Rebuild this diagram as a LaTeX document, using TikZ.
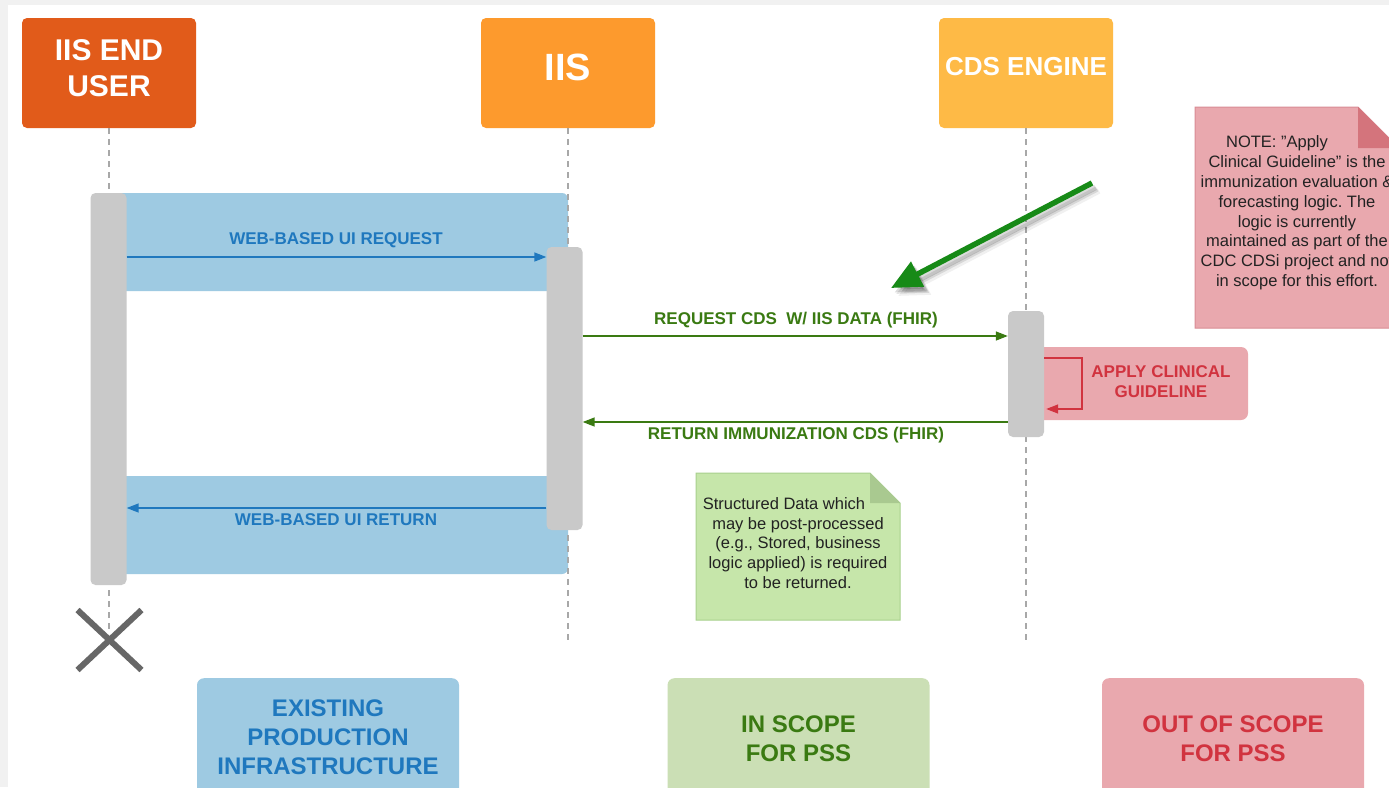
\documentclass[tikz,border=0pt]{standalone}
\usepackage{fontspec}
\setmainfont{Liberation Sans}
\usetikzlibrary{arrows.meta,calc}
\frenchspacing

\definecolor{userorange}{HTML}{E15B1A}
\definecolor{iisorange}{HTML}{FD9A2D}
\definecolor{cdsyellow}{HTML}{FEBA46}
\definecolor{bandblue}{HTML}{9ECAE2}
\definecolor{msgblue}{HTML}{1F78BE}
\definecolor{bargray}{HTML}{C9C9C9}
\definecolor{msggreen}{HTML}{3A7A12}
\definecolor{notepink}{HTML}{E9A8AE}
\definecolor{pinkedge}{HTML}{D98C94}
\definecolor{pinkfold}{HTML}{D4747C}
\definecolor{msgred}{HTML}{D1333F}
\definecolor{notegreen}{HTML}{C6E6AA}
\definecolor{greenedge}{HTML}{A8D08D}
\definecolor{greenfold}{HTML}{A9C990}
\definecolor{scopegreen}{HTML}{CBDFB5}
\definecolor{pointergreen}{HTML}{178A17}
\definecolor{crossgray}{HTML}{676767}
\definecolor{lifegray}{HTML}{A8A8A8}
\definecolor{framegray}{HTML}{F1F1F1}
\definecolor{notetextcol}{HTML}{222222}

\begin{document}
\begin{tikzpicture}[x=1pt,y=-1pt,
  actor/.style={rounded corners=5pt, minimum width=174pt, minimum height=110pt, inner sep=0pt},
  actortext/.style={text=white, align=center, inner sep=0pt},
  bar/.style={fill=bargray, rounded corners=5pt, minimum width=36pt, inner sep=0pt},
  band/.style={fill=bandblue, rounded corners=6pt, inner sep=0pt, minimum height=98pt, minimum width=453pt},
  lifeline/.style={draw=lifegray, line width=1.2pt, dash pattern=on 6pt off 5pt},
  msgfont/.style={font=\fontsize{17}{20}\selectfont\bfseries, inner sep=0pt, align=center},
  bluemsg/.style={draw=msgblue, line width=1.5pt, -{Triangle[length=12pt,width=9pt]}},
  greenmsg/.style={draw=msggreen, line width=1.5pt, -{Triangle[length=12pt,width=9pt]}},
  redmsg/.style={draw=msgred, line width=1.5pt, -{Triangle[length=12pt,width=9pt]}},
  legendbox/.style={rounded corners=7pt, minimum width=262pt, minimum height=130pt, inner sep=0pt, anchor=north},
  legendtext/.style={font=\fontsize{24}{29}\selectfont\bfseries, align=center, inner sep=0pt},
  notetext/.style={font=\fontsize{16.5}{19.8}\selectfont, text=notetextcol, align=center, inner sep=0pt},
  pointer/.style={line width=5.5pt, -{Triangle[length=30pt,width=27pt]}},
]
\clip (0,0) rectangle (1389,787);
\useasboundingbox (0,0) rectangle (1389,787);

% page frame
\fill[framegray] (0,0) rectangle (1389,787);
\fill[white] (8,5) rectangle (1389,787);

% legend
\node[legendbox, fill=bandblue] (legexist) at (328,678) {};
\node[legendtext, text=msgblue] (legexisttext) at (328,737) {EXISTING\\PRODUCTION\\INFRASTRUCTURE};
\node[legendbox, fill=scopegreen] (legin) at (798.5,678) {};
\node[legendtext, text=msggreen] (legintext) at (798.5,739) {IN SCOPE\\FOR PSS};
\node[legendbox, fill=notepink] (legout) at (1233,678) {};
\node[legendtext, text=msgred] (legouttext) at (1233,739) {OUT OF SCOPE\\FOR PSS};

% notes with folded corners
\path[fill=notepink, draw=pinkedge, line width=1pt]
  (1195,107) -- (1358,107) -- (1399,148) -- (1399,328) -- (1195,328) -- cycle;
\fill[pinkfold] (1358,107) -- (1358,148) -- (1399,148) -- cycle;
\node[notetext] (cdcnote) at (1297,213) {NOTE: "Apply\phantom{\hspace{40pt}}\\
 Clinical Guideline" is the\\immunization evaluation \&\\forecasting logic. The\\logic is currently\\maintained as part of the\\CDC CDSi project and not\\in scope for this effort.};

\path[fill=notegreen, draw=greenedge, line width=1pt]
  (696,473) -- (870,473) -- (900,503) -- (900,620) -- (696,620) -- cycle;
\fill[greenfold] (870,473) -- (870,503) -- (900,503) -- cycle;
\node[notetext] (fhirnote) at (798,543) {Structured Data which\phantom{\hspace{28pt}}\\may be post-processed\\(e.g., Stored, business\\logic applied) is required\\to be returned.};

% interaction bands
\node[band] (bandreq) at (341.5,242) {};
\node[band] (bandret) at (341.5,525) {};
\node[fill=notepink, rounded corners=7pt, minimum width=218pt, minimum height=73pt, inner sep=0pt] (applybox) at (1139,383.5) {};

% actors
\node[actor, fill=userorange] (user) at (109,73) {};
\node[actor, fill=iisorange] (iis) at (568,73) {};
\node[actor, fill=cdsyellow] (cds) at (1026,73) {};
\node[actortext, font=\fontsize{30}{36}\selectfont\bfseries] (usertext) at (109,68) {IIS END\\USER};
\node[actortext, font=\fontsize{38}{40}\selectfont\bfseries] (iistext) at (568,67) {IIS};
\node[actortext, font=\fontsize{26}{30}\selectfont\bfseries] (cdstext) at (1026,67) {CDS ENGINE};

% lifelines
\coordinate (userend) at (109,633);
\coordinate (iisend) at (568,640);
\coordinate (cdsend) at (1026,640);
\draw[lifeline] (user.south) -- (userend);
\draw[lifeline] (iis.south) -- (iisend);
\draw[lifeline] (cds.south) -- (cdsend);

% activation bars
\node[bar, minimum height=392pt] (ubar) at (108.5,389) {};
\node[bar, minimum height=283pt] (ibar) at (564.5,388.5) {};
\node[bar, minimum height=126pt] (cbar) at (1026,374) {};

% messages
\draw[bluemsg] (ubar.east |- 0,257) -- (ibar.west |- 0,257);
\node[msgfont, text=msgblue] (reqlabel) at (336,240) {WEB-BASED UI REQUEST};
\draw[greenmsg] (ibar.east |- 0,336) -- (cbar.west |- 0,336);
\node[msgfont, text=msggreen] (cdsreqlabel) at (796,320) {REQUEST CDS~ W/ IIS DATA (FHIR)};
\draw[greenmsg] (cbar.west |- 0,422) -- (ibar.east |- 0,422);
\node[msgfont, text=msggreen] (cdsretlabel) at (796,435) {RETURN IMMUNIZATION CDS (FHIR)};
\draw[bluemsg] (ibar.west |- 0,508) -- (ubar.east |- 0,508);
\node[msgfont, text=msgblue] (retlabel) at (336,520) {WEB-BASED UI RETURN};

% self call
\coordinate (selftop) at (1082,358);
\coordinate (selfbottom) at (1082,409);
\draw[redmsg] (cbar.east |- selftop) -- (selftop) -- (selfbottom) -- ($(cbar.east |- selfbottom)+(2,0)$);
\node[msgfont, text=msgred] (applylabel) at (1161,382) {APPLY CLINICAL\\GUIDELINE};

% end of the user lifeline
\coordinate (endx) at (109.5,640);
\draw[crossgray, line width=6pt] ($(endx)+(-32,-30)$) -- ($(endx)+(32,30)$);
\draw[crossgray, line width=6pt] ($(endx)+(-32,30)$) -- ($(endx)+(32,-30)$);

% pointer to the engine's logic, with a soft shadow
\coordinate (ptrtail) at (1092,183);
\coordinate (ptrtip) at (891,288);
\foreach \s/\o in {7/0.06,5/0.10,3.5/0.14} {
  \draw[pointer, black, opacity=\o] ($(ptrtail)+(\s,\s+1)$) -- ($(ptrtip)+(\s,\s+1)$);
}
\draw[pointer, pointergreen] (ptrtail) -- (ptrtip);
\end{tikzpicture}
\end{document}
